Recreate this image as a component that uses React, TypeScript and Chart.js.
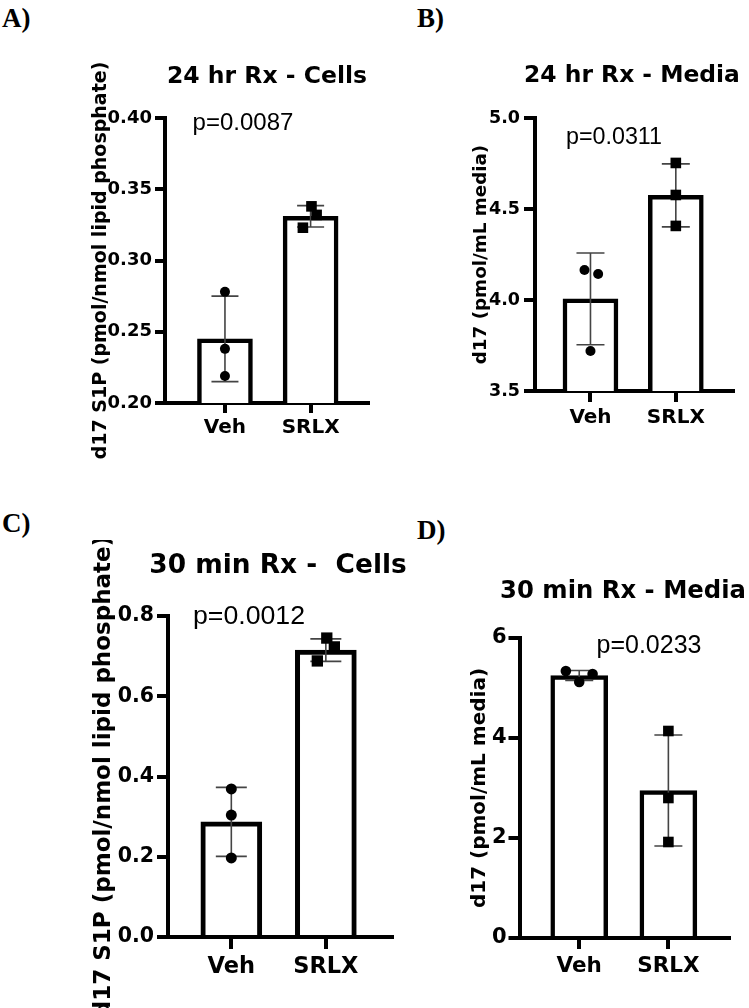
import React, { useEffect, useRef } from 'react';
import { Chart, registerables } from 'chart.js';

Chart.register(...registerables);

// ---------------- DATA ----------------
const categories = ['Veh', 'SRLX'];

// A) 24 hr Rx - Cells
const aVeh = [0.278, 0.238, 0.219];
const aSrlx = [0.338, 0.332, 0.323];
const aMean = [0.245, 0.331];
const aSd = [0.030, 0.0075];
const aVehJitter = [0, 0, 0];
const aSrlxJitter = [0.01, 0.07, -0.09];
const aYTicks = ['0.20', '0.25', '0.30', '0.35', '0.40'];

// B) 24 hr Rx - Media
const bVeh = [4.165, 4.143, 3.72];
const bSrlx = [4.753, 4.577, 4.407];
const bMean = [4.006, 4.575];
const bSd = [0.252, 0.173];
const bVehJitter = [-0.07, 0.09, 0];
const bSrlxJitter = [0, 0, 0];
const bYTicks = ['3.5', '4.0', '4.5', '5.0'];

// C) 30 min Rx - Cells
const cVeh = [0.369, 0.304, 0.197];
const cSrlx = [0.745, 0.723, 0.688];
const cMean = [0.287, 0.715];
const cSd = [0.086, 0.028];
const cVehJitter = [0, 0, 0];
const cSrlxJitter = [0.01, 0.09, -0.09];
const cYTicks = ['0.0', '0.2', '0.4', '0.6', '0.8'];

// D) 30 min Rx - Media
const dVeh = [5.34, 5.28, 5.12];
const dSrlx = [4.14, 2.80, 1.92];
const dMean = [5.25, 2.95];
const dSd = [0.1, 1.11];
const dVehJitter = [-0.15, 0.15, 0];
const dSrlxJitter = [0, 0, 0];
const dYTicks = ['0', '2', '4', '6'];

const titles = ['24 hr Rx - Cells', '24 hr Rx - Media', '30 min Rx -  Cells', '30 min Rx - Media'];
const pValues = ['p=0.0087', 'p=0.0311', 'p=0.0012', 'p=0.0233'];
const yTitles = [
  'd17 S1P (pmol/nmol lipid phosphate)',
  'd17 (pmol/mL media)',
  'd17 S1P (pmol/nmol lipid phosphate)',
  'd17 (pmol/mL media)',
];
const panelLetters = ['A)', 'B)', 'C)', 'D)'];

// ---------------- LAYOUT / STYLE ----------------
const BOLD = '"DejaVu Sans", "Liberation Sans", Arial, sans-serif';
const REG = '"Liberation Sans", Arial, sans-serif';

type Layout = {
  box: [number, number, number, number];
  area: [number, number, number, number];
  xRange: [number, number];
  yTickFont: number; yTickLen: number; yTickPad: number;
  xTickFont: number; xTickLen: number; xTickPad: number;
  barW: number; barBorder: number; axisW: number;
  circleR: number; rectR: number; cap: number;
  titleFont: number; titleX: number; titleY: number;
  pFont: number; pX: number; pY: number;
  yLabelFont: number; yLabelX: number;
  letter: [number, number];
};

const layouts: Layout[] = [
  {
    box: [0, 40, 380, 440], area: [165, 118, 368, 403], xRange: [0.30, 2.67],
    yTickFont: 18, yTickLen: 10, yTickPad: 3, xTickFont: 20, xTickLen: 10, xTickPad: 3,
    barW: 55, barBorder: 4.5, axisW: 4, circleR: 5, rectR: 7.5, cap: 27,
    titleFont: 23.5, titleX: 267, titleY: 83, pFont: 24, pX: 243, pY: 130,
    yLabelFont: 19, yLabelX: 106, letter: [2, 28],
  },
  {
    box: [380, 40, 369, 420], area: [535, 118, 733, 391], xRange: [0.35, 2.67],
    yTickFont: 17.5, yTickLen: 11, yTickPad: 4, xTickFont: 20, xTickLen: 11, xTickPad: 4,
    barW: 55, barBorder: 4.5, axisW: 4, circleR: 5, rectR: 7.5, cap: 28,
    titleFont: 23.4, titleX: 632, titleY: 82, pFont: 23.3, pX: 614, pY: 144,
    yLabelFont: 18.3, yLabelX: 486, letter: [417, 28],
  },
  {
    box: [0, 540, 415, 468], area: [168, 616, 392, 937], xRange: [0.33, 2.70],
    yTickFont: 20.5, yTickLen: 11, yTickPad: 3, xTickFont: 22.5, xTickLen: 12, xTickPad: 5,
    barW: 61, barBorder: 5, axisW: 4, circleR: 5.5, rectR: 8, cap: 31,
    titleFont: 26.4, titleX: 278, titleY: 573, pFont: 26.7, pX: 249, pY: 624,
    yLabelFont: 23, yLabelX: 110, letter: [2, 533],
  },
  {
    box: [415, 540, 334, 468], area: [519.5, 638, 729, 938], xRange: [0.33, 2.68],
    yTickFont: 21, yTickLen: 11, yTickPad: 2, xTickFont: 21.5, xTickLen: 11, xTickPad: 5,
    barW: 57, barBorder: 4.5, axisW: 4, circleR: 5.3, rectR: 7.5, cap: 28,
    titleFont: 24.3, titleX: 623, titleY: 598, pFont: 25, pX: 649, pY: 653,
    yLabelFont: 20, yLabelX: 485, letter: [417, 540],
  },
];

type PanelData = {
  veh: number[]; srlx: number[]; mean: number[]; sd: number[];
  vehJitter: number[]; srlxJitter: number[]; yTicks: string[];
};

const panelData: PanelData[] = [
  { veh: aVeh, srlx: aSrlx, mean: aMean, sd: aSd, vehJitter: aVehJitter, srlxJitter: aSrlxJitter, yTicks: aYTicks },
  { veh: bVeh, srlx: bSrlx, mean: bMean, sd: bSd, vehJitter: bVehJitter, srlxJitter: bSrlxJitter, yTicks: bYTicks },
  { veh: cVeh, srlx: cSrlx, mean: cMean, sd: cSd, vehJitter: cVehJitter, srlxJitter: cSrlxJitter, yTicks: cYTicks },
  { veh: dVeh, srlx: dSrlx, mean: dMean, sd: dSd, vehJitter: dVehJitter, srlxJitter: dSrlxJitter, yTicks: dYTicks },
];

// ---------------- PLUGINS ----------------
const errorBarsPlugin = {
  id: 'errorBars',
  afterDatasetDraw(chart: any, args: any, opts: any) {
    const ds = chart.data.datasets[args.index];
    if (!ds.errors) return;
    const ys = chart.scales.y;
    const ctx = chart.ctx;
    ctx.save();
    ctx.strokeStyle = opts.color || '#444';
    ctx.lineWidth = opts.width || 1.5;
    args.meta.data.forEach((bar: any, i: number) => {
      const m = ds.data[i].y;
      const e = ds.errors[i];
      const top = ys.getPixelForValue(m + e);
      const bot = ys.getPixelForValue(m - e);
      const half = (opts.cap || 26) / 2;
      ctx.beginPath();
      ctx.moveTo(bar.x, top);
      ctx.lineTo(bar.x, bot);
      ctx.moveTo(bar.x - half, top);
      ctx.lineTo(bar.x + half, top);
      ctx.moveTo(bar.x - half, bot);
      ctx.lineTo(bar.x + half, bot);
      ctx.stroke();
    });
    ctx.restore();
  },
};

const annotatePlugin = {
  id: 'annotate',
  afterDraw(chart: any, _args: any, o: any) {
    const ctx = chart.ctx;
    ctx.save();
    ctx.fillStyle = '#000';
    ctx.textAlign = 'center';
    ctx.textBaseline = 'alphabetic';
    ctx.font = `bold ${o.titleFont}px ${BOLD}`;
    ctx.fillText(o.title, o.titleX, o.titleY);
    ctx.font = `${o.pFont}px ${REG}`;
    ctx.fillText(o.p, o.pX, o.pY);
    const ys = chart.scales.y;
    const cy = (ys.top + ys.bottom) / 2;
    ctx.translate(o.yLabelX, cy);
    ctx.rotate(-Math.PI / 2);
    ctx.font = `bold ${o.yLabelFont}px ${BOLD}`;
    ctx.fillText(o.yLabel, 0, 0);
    ctx.restore();
  },
};

function buildConfig(idx: number): any {
  const d = panelData[idx];
  const L = layouts[idx];
  const [bx, by, bw, bh] = L.box;
  const [al, at, ar, ab] = L.area;
  const yVals = d.yTicks.map((t) => parseFloat(t));
  return {
    type: 'bar',
    data: {
      datasets: [
        {
          type: 'scatter',
          data: d.veh.map((v, i) => ({ x: 1 + d.vehJitter[i], y: v })),
          pointStyle: 'circle',
          pointRadius: L.circleR,
          pointBackgroundColor: '#000',
          pointBorderWidth: 0,
          order: 1,
          clip: false,
        },
        {
          type: 'scatter',
          data: d.srlx.map((v, i) => ({ x: 2 + d.srlxJitter[i], y: v })),
          pointStyle: 'rect',
          pointRadius: L.rectR,
          pointBackgroundColor: '#000',
          pointBorderWidth: 0,
          order: 1,
          clip: false,
        },
        {
          type: 'bar',
          data: d.mean.map((m, i) => ({ x: i + 1, y: m })),
          errors: d.sd,
          backgroundColor: '#ffffff',
          borderColor: '#000000',
          borderWidth: L.barBorder,
          barThickness: L.barW,
          order: 2,
        },
      ],
    },
    options: {
      animation: false,
      responsive: false,
      devicePixelRatio: 1,
      events: [],
      layout: {
        padding: { left: 0, top: at - by, right: bx + bw - ar, bottom: 0 },
      },
      plugins: {
        legend: { display: false },
        tooltip: { enabled: false },
        title: { display: false },
        errorBars: { cap: L.cap, width: 1.6, color: '#444' },
        annotate: {
          title: titles[idx],
          titleFont: L.titleFont,
          titleX: L.titleX - bx,
          titleY: L.titleY - by,
          p: pValues[idx],
          pFont: L.pFont,
          pX: L.pX - bx,
          pY: L.pY - by,
          yLabel: yTitles[idx],
          yLabelFont: L.yLabelFont,
          yLabelX: L.yLabelX - bx,
        },
      },
      scales: {
        x: {
          type: 'linear',
          min: L.xRange[0],
          max: L.xRange[1],
          offset: false,
          afterBuildTicks: (s: any) => {
            s.ticks = categories.map((_, i) => ({ value: i + 1 }));
          },
          afterFit: (s: any) => {
            s.height = by + bh - ab;
          },
          ticks: {
            callback: (_v: any, i: number) => categories[i],
            font: { family: BOLD, weight: 'bold', size: L.xTickFont },
            color: '#000',
            padding: L.xTickPad,
            maxRotation: 0,
            autoSkip: false,
          },
          grid: {
            display: true,
            offset: false,
            drawOnChartArea: false,
            drawTicks: true,
            tickLength: L.xTickLen,
            tickWidth: L.axisW,
            tickColor: '#000',
            lineWidth: L.axisW,
            color: '#000',
          },
          border: { display: true, color: '#000', width: L.axisW },
        },
        y: {
          type: 'linear',
          min: yVals[0],
          max: yVals[yVals.length - 1],
          afterBuildTicks: (s: any) => {
            s.ticks = yVals.map((v) => ({ value: v }));
          },
          afterFit: (s: any) => {
            s.width = al - bx;
          },
          ticks: {
            callback: (_v: any, i: number) => d.yTicks[i],
            font: { family: BOLD, weight: 'bold', size: L.yTickFont },
            color: '#000',
            padding: L.yTickPad,
            autoSkip: false,
          },
          grid: {
            display: true,
            drawOnChartArea: false,
            drawTicks: true,
            tickLength: L.yTickLen,
            tickWidth: L.axisW,
            tickColor: '#000',
            lineWidth: L.axisW,
            color: '#000',
          },
          border: { display: true, color: '#000', width: L.axisW },
        },
      },
    },
    plugins: [errorBarsPlugin, annotatePlugin],
  };
}

function Panel({ idx }: { idx: number }) {
  const ref = useRef<HTMLCanvasElement | null>(null);
  const [bx, by, bw, bh] = layouts[idx].box;
  useEffect(() => {
    if (!ref.current) return;
    const chart = new Chart(ref.current, buildConfig(idx));
    return () => chart.destroy();
  }, [idx]);
  return (
    <canvas
      ref={ref}
      width={bw}
      height={bh}
      style={{ position: 'absolute', left: bx, top: by, width: bw, height: bh }}
    />
  );
}

export default function App() {
  return (
    <div style={{ position: 'absolute', left: 0, top: 0, width: 749, height: 1008, background: '#fff', overflow: 'hidden' }}>
      {layouts.map((L, i) => (
        <div
          key={'lbl' + i}
          style={{
            position: 'absolute',
            left: L.letter[0],
            top: L.letter[1] - 23,
            font: 'bold 27px "Liberation Serif", "Times New Roman", serif',
            lineHeight: '27px',
            color: '#000',
            whiteSpace: 'nowrap',
          }}
        >
          {panelLetters[i]}
        </div>
      ))}
      {layouts.map((_, i) => (
        <Panel key={i} idx={i} />
      ))}
    </div>
  );
}
